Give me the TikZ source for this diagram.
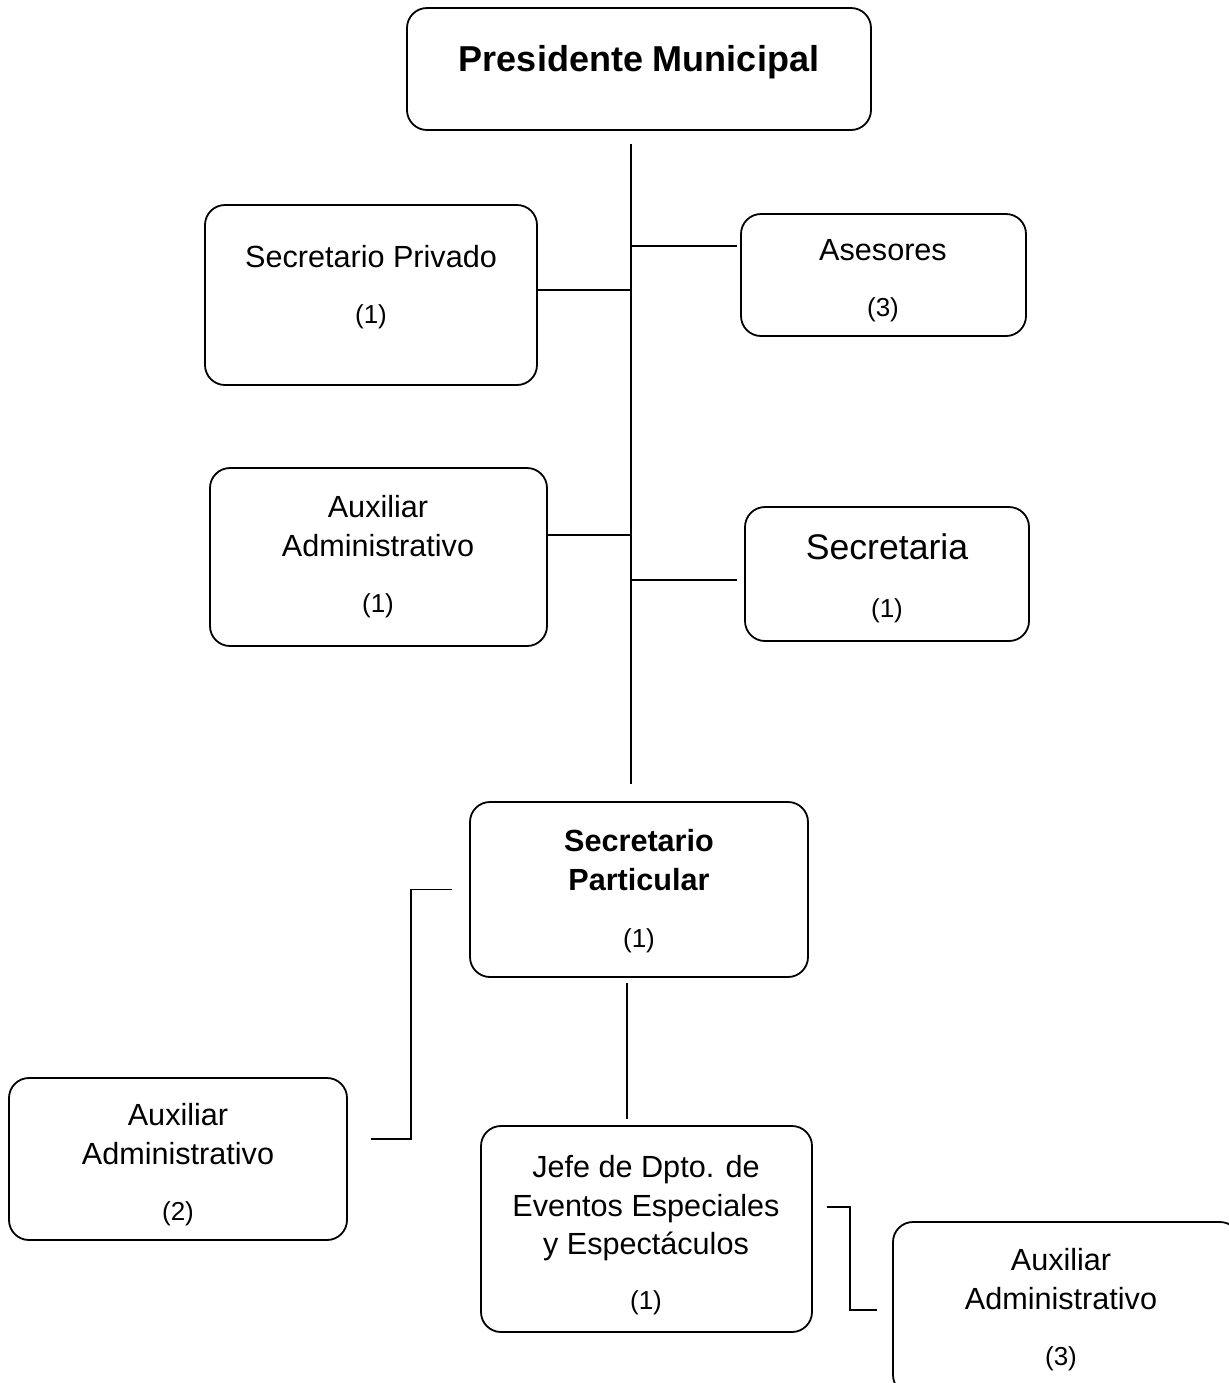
\documentclass[tikz,border=0pt]{standalone}
\usepackage{fontspec}
\setmainfont{Liberation Sans}
\usetikzlibrary{calc}

\begin{document}
\begin{tikzpicture}[x=0.5pt,y=-0.5pt,
    box/.style={draw, rounded corners=10pt, line width=0.9pt, inner sep=0pt},
    txt/.style={align=center, inner sep=0pt, text depth=0pt, font=\fontsize{15.3}{19.3}\selectfont},
    num/.style={inner sep=0pt, text depth=0pt, font=\fontsize{13}{15}\selectfont},
    link/.style={line width=0.6pt}]
  \useasboundingbox (0,0) rectangle (1228,1383);
  \coordinate (trunk) at (631,0);
  \coordinate (elbowL) at (411,0);
  \coordinate (elbowR) at (850,0);

  % Define nodes
  \node[box, minimum width=232pt, minimum height=61pt] (pres) at (639,69) {};
  \node[box, minimum width=166pt, minimum height=90pt] (privado) at (371,295) {};
  \node[box, minimum width=142.5pt, minimum height=61pt] (asesores) at (883.5,275) {};
  \node[box, minimum width=168.5pt, minimum height=89pt] (auxa) at (378.5,557) {};
  \node[box, minimum width=142pt, minimum height=67pt] (secretaria) at (887,574) {};
  \node[box, minimum width=169pt, minimum height=87.5pt] (particular) at (639,889.5) {};
  \node[box, minimum width=169pt, minimum height=81pt] (auxb) at (178,1159) {};
  \node[box, minimum width=165.5pt, minimum height=103pt] (jefe) at (646.5,1229) {};
  \node[box, minimum width=173.5pt, minimum height=86.5pt] (auxc) at (1066.5,1308.5) {};

  % Texts
  \node[txt, font=\fontsize{18}{22}\selectfont\bfseries] (pres-t) at (639,58) {Presidente Municipal};
  \node[txt] (privado-t) at (371,256) {Secretario Privado};
  \node[num] (privado-n) at (371,314) {(1)};
  \node[txt] (asesores-t) at (883,250) {Asesores};
  \node[num] (asesores-n) at (883,307) {(3)};
  \node[txt] (auxa-t) at (378,526) {Auxiliar\\Administrativo};
  \node[num] (auxa-n) at (378,603) {(1)};
  \node[txt, font=\fontsize{17.8}{21}\selectfont] (secretaria-t) at (887,547) {Secretaria};
  \node[num] (secretaria-n) at (887,608) {(1)};
  \node[txt, font=\fontsize{15.3}{19.3}\selectfont\bfseries] (particular-t) at (639,860) {Secretario\\Particular};
  \node[num] (particular-n) at (639,938) {(1)};
  \node[txt] (auxb-t) at (178,1134) {Auxiliar\\Administrativo};
  \node[num] (auxb-n) at (178,1211) {(2)};
  \node[txt] (jefe-t) at (646,1205) {Jefe de Dpto. de\\Eventos Especiales\\y Espectáculos};
  \node[num] (jefe-n) at (646,1300) {(1)};
  \node[txt] (auxc-t) at (1061,1279) {Auxiliar\\Administrativo};
  \node[num] (auxc-n) at (1061,1356) {(3)};

  % Draw edges
  \draw[link, shorten <=6.5pt, shorten >=8.5pt] (pres.south -| trunk) -- (particular.north -| trunk);
  \draw[link] ([yshift=2.5pt]privado.east) -- ([yshift=2.5pt]privado.east -| trunk);
  \draw[link, shorten >=1.5pt] ([yshift=14.5pt]asesores.west -| trunk) -- ([yshift=14.5pt]asesores.west);
  \draw[link] ([yshift=11pt]auxa.east) -- ([yshift=11pt]auxa.east -| trunk);
  \draw[link, shorten >=3.5pt] ([yshift=-3pt]secretaria.west -| trunk) -- ([yshift=-3pt]secretaria.west);
  \draw[link, shorten <=2.5pt, shorten >=3pt] ([xshift=-6pt]particular.south) -- ([xshift=-6pt]particular.south |- jefe.north);
  \draw[link, shorten <=8.5pt, shorten >=11.5pt] (particular.west) -| ([yshift=10pt]auxb.east -| elbowL) -- ([yshift=10pt]auxb.east);
  \draw[link, shorten <=7pt, shorten >=7.5pt] ([yshift=11pt]jefe.east) -| ([yshift=-0.75pt]auxc.west -| elbowR) -- ([yshift=-0.75pt]auxc.west);
\end{tikzpicture}
\end{document}
